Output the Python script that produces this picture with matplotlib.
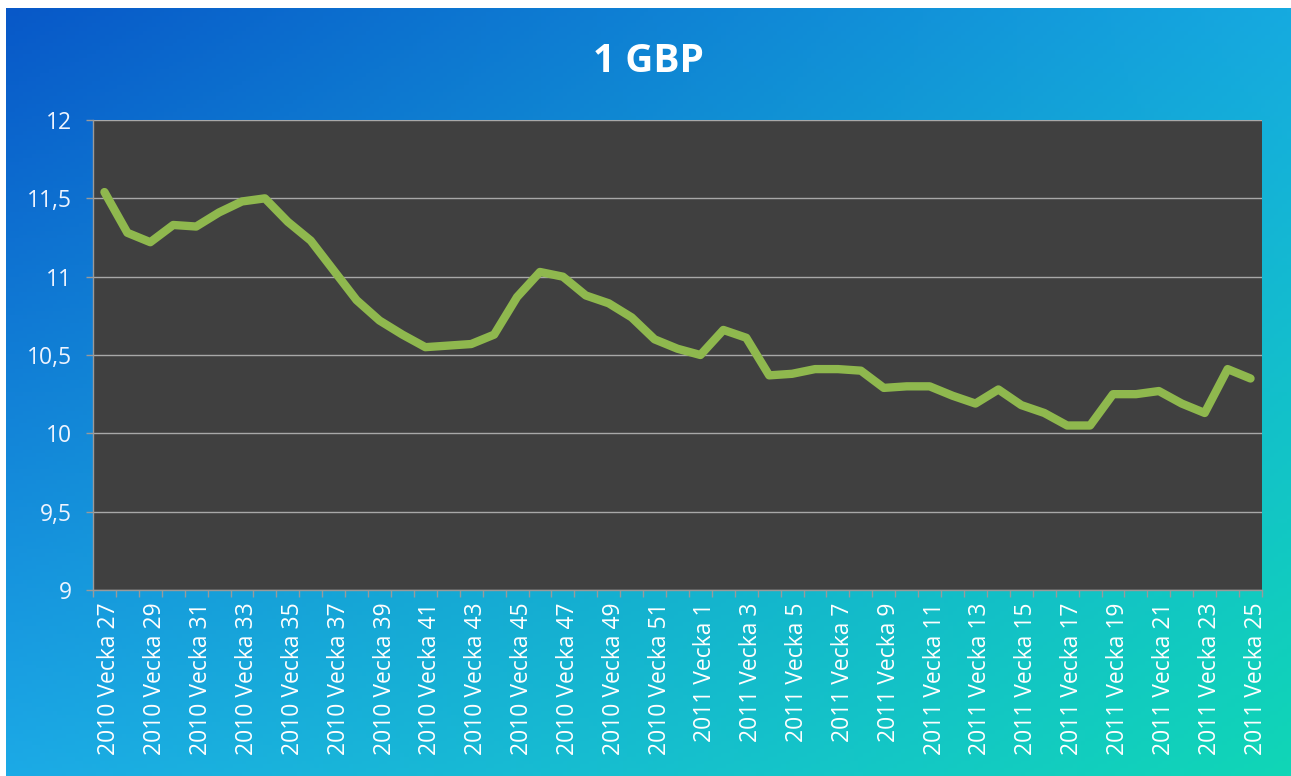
import matplotlib

matplotlib.use("Agg")
import matplotlib.pyplot as plt
import matplotlib.transforms as mtransforms
import numpy as np
from matplotlib.ticker import FixedLocator, FuncFormatter

# weekly price of 1 GBP in SEK, 2010 week 27 .. 2011 week 25
YEARS = [2010] * 26 + [2011] * 25
WEEKS = list(range(27, 53)) + list(range(1, 26))
GBP = [
    11.54, 11.28, 11.22, 11.33, 11.32, 11.41, 11.48, 11.50, 11.35, 11.23,
    11.04, 10.85, 10.72, 10.63, 10.55, 10.56, 10.57, 10.63, 10.87, 11.03,
    11.00, 10.88, 10.83, 10.74, 10.60, 10.54, 10.50, 10.66, 10.61, 10.37,
    10.38, 10.41, 10.41, 10.40, 10.29, 10.30, 10.30, 10.24, 10.19, 10.28,
    10.18, 10.13, 10.05, 10.05, 10.25, 10.25, 10.27, 10.19, 10.13, 10.41,
    10.35,
]
Y_TICKS = [9, 9.5, 10, 10.5, 11, 11.5, 12]
TITLE = "1 GBP"

W, H = 1291, 776
plt.rcParams["font.family"] = ["Open Sans", "DejaVu Sans"]

fig = plt.figure(figsize=(W / 100, H / 100), dpi=100)
fig.patch.set_facecolor("white")

# gradient background (blue top-left -> teal bottom-right)
bg = fig.add_axes([6 / W, 0, (W - 6) / W, (H - 8) / H], zorder=-5)
tl = np.array([8, 88, 200]) / 255
tr = np.array([22, 170, 224]) / 255
bl = np.array([28, 170, 230]) / 255
br = np.array([16, 214, 182]) / 255
u = np.linspace(0, 1, 300)[None, :, None]
v = np.linspace(0, 1, 200)[:, None, None]
grad = (1 - v) * ((1 - u) * tl + u * tr) + v * ((1 - u) * bl + u * br)
bg.imshow(grad, aspect="auto", extent=[0, 1, 0, 1], origin="upper")
bg.axis("off")

ax = fig.add_axes([93 / W, (H - 590) / H, (1262 - 93) / W, (590 - 120) / H])
ax.set_facecolor("#404040")

labels = [f"{y} Vecka {w}" for y, w in zip(YEARS, WEEKS)]
x = np.arange(len(GBP))
ax.plot(x, GBP, color="#8fb84e", linewidth=6, solid_joinstyle="round",
        solid_capstyle="round", zorder=3)

ax.set_xlim(-0.5, len(GBP) - 0.5)
ax.set_ylim(Y_TICKS[0], Y_TICKS[-1])
ax.yaxis.set_major_locator(FixedLocator(Y_TICKS))
ax.yaxis.set_major_formatter(FuncFormatter(lambda v, _: f"{v:g}".replace(".", ",")))
ax.grid(axis="y", color="#a8a8a8", linewidth=1.0)
ax.set_axisbelow(True)

ax.set_xticks(x[::2])
ax.set_xticklabels(labels[::2], rotation=90, ha="center", va="top")
ax.set_xticks(np.arange(-0.5, len(GBP)), minor=True)
ax.tick_params(axis="x", which="major", length=0, pad=9, labelsize=16.5,
               labelcolor="white")
ax.tick_params(axis="x", which="minor", length=5, color="#9a9a9a", width=1)
ax.tick_params(axis="y", length=5, color="#9a9a9a", width=1, pad=10,
               labelsize=16.5, labelcolor="#eef4ff")

# nudge the rotated labels a little to the right, as in the original
shift = mtransforms.ScaledTranslation(5 / 100, 0, fig.dpi_scale_trans)
for lbl in ax.get_xticklabels():
    lbl.set_transform(lbl.get_transform() + shift)

for side in ("top", "right"):
    ax.spines[side].set_visible(False)
for side in ("left", "bottom"):
    ax.spines[side].set_color("#9a9a9a")
    ax.spines[side].set_linewidth(1)

fig.text(648 / W, 1 - 61 / H, TITLE, ha="center", va="center", color="white",
         fontsize=28, fontweight="bold")

fig.savefig("out.png", dpi=100)
